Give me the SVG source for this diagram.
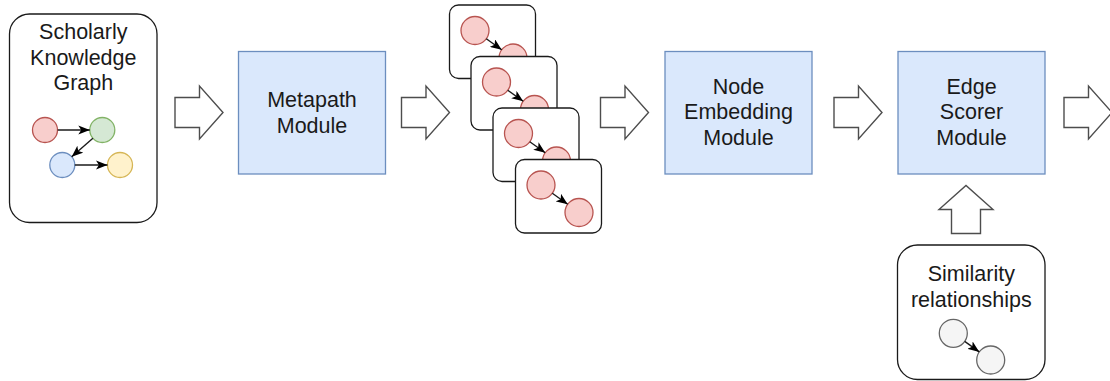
<svg xmlns="http://www.w3.org/2000/svg" width="1110" height="381" viewBox="0 0 1110 381">
  <style>
    .panel { fill: #ffffff; stroke: #1a1a1a; stroke-width: 1.3; }
    .module { fill: #dae8fc; stroke: #6c8ebf; stroke-width: 1.3; }
    .flow { fill: #ffffff; stroke: #4d4d4d; stroke-width: 1.4; stroke-linejoin: miter; }
    .label { font-family: "Liberation Sans", Helvetica, Arial, sans-serif; font-size: 21.5px; fill: #1a1a1a; text-anchor: middle; }
    .red { fill: #f8cecc; stroke: #b85450; stroke-width: 1.3; }
    .green { fill: #d5e8d4; stroke: #82b366; stroke-width: 1.3; }
    .blue { fill: #dae8fc; stroke: #6c8ebf; stroke-width: 1.3; }
    .yellow { fill: #fff2cc; stroke: #d6b656; stroke-width: 1.3; }
    .gray { fill: #f5f5f5; stroke: #666666; stroke-width: 1.3; }
    .edge { fill: none; stroke: #1a1a1a; stroke-width: 1.4; marker-end: url(#head); }
  </style>
  <defs>
    <marker id="head" viewBox="0 0 10 8" refX="10" refY="4" markerWidth="11.5" markerHeight="9.2" markerUnits="userSpaceOnUse" orient="auto">
      <path d="M0,0 L10,4 L0,8 L2.5,4 Z" fill="#000000"/>
    </marker>
    <!-- one metapath instance card: two red nodes and a directed edge -->
    <g id="card">
      <rect class="panel" x="0" y="0" width="86" height="73.5" rx="9"/>
      <circle class="red" cx="25.5" cy="25.5" r="14"/>
      <circle class="red" cx="63.5" cy="53" r="14"/>
      <line class="edge" x1="36.8" y1="33.7" x2="52.2" y2="44.8"/>
    </g>
  </defs>

  <!-- input graph -->
  <g id="scholarly-kg">
    <rect class="panel" x="9.5" y="14" width="147.5" height="208.5" rx="20"/>
    <text class="label" x="83.3" y="39">Scholarly</text>
    <text class="label" x="83.3" y="64.5">Knowledge</text>
    <text class="label" x="83.3" y="90">Graph</text>
    <circle class="red" cx="45" cy="130" r="12.5"/>
    <circle class="green" cx="102.3" cy="130" r="12.5"/>
    <circle class="blue" cx="62.3" cy="165" r="12.5"/>
    <circle class="yellow" cx="120" cy="165" r="12.5"/>
    <line class="edge" x1="57.7" y1="130" x2="89.8" y2="130"/>
    <line class="edge" x1="92.9" y1="138.2" x2="71.7" y2="156.8"/>
    <line class="edge" x1="74.8" y1="165" x2="107.5" y2="165"/>
  </g>

  <g id="metapath-module">
    <rect class="module" x="238.5" y="51.5" width="147" height="122.5"/>
    <text class="label" x="312" y="107.3">Metapath</text>
    <text class="label" x="312" y="133.3">Module</text>
  </g>

  <!-- stacked metapath instances -->
  <g id="metapath-instances">
    <use href="#card" x="449.5" y="5"/>
    <use href="#card" x="471" y="56.5"/>
    <use href="#card" x="493" y="108"/>
    <use href="#card" x="515.5" y="159.5"/>
  </g>

  <g id="node-embedding-module">
    <rect class="module" x="665" y="51.5" width="147" height="122.5"/>
    <text class="label" x="738.5" y="93.5">Node</text>
    <text class="label" x="738.5" y="119.3">Embedding</text>
    <text class="label" x="738.5" y="145.1">Module</text>
  </g>

  <g id="edge-scorer-module">
    <rect class="module" x="898" y="51.5" width="147" height="122.5"/>
    <text class="label" x="971.5" y="93.5">Edge</text>
    <text class="label" x="971.5" y="119.3">Scorer</text>
    <text class="label" x="971.5" y="145.1">Module</text>
  </g>

  <g id="similarity-relationships">
    <rect class="panel" x="897.5" y="245" width="147.5" height="134.5" rx="20"/>
    <text class="label" x="971.3" y="281">Similarity</text>
    <text class="label" x="971.3" y="306.7">relationships</text>
    <circle class="gray" cx="953.3" cy="333.3" r="14"/>
    <circle class="gray" cx="990.7" cy="360" r="14"/>
    <line class="edge" x1="964.7" y1="341.4" x2="979.3" y2="351.9"/>
  </g>

  <!-- block arrows between stages -->
  <g id="connectors">
    <path class="flow" d="M175,97.5 H199.5 V86 L223,112.5 L199.5,139 V127.5 H175 Z"/>
    <path class="flow" d="M401.5,97.5 H426 V86 L449.5,112.5 L426,139 V127.5 H401.5 Z"/>
    <path class="flow" d="M600.5,97.5 H625 V86 L648.5,112.5 L625,139 V127.5 H600.5 Z"/>
    <path class="flow" d="M834,97.5 H858.5 V86 L882,112.5 L858.5,139 V127.5 H834 Z"/>
    <path class="flow" d="M1064,97.5 H1088.5 V86 L1112,112.5 L1088.5,139 V127.5 H1064 Z"/>
    <path class="flow" d="M951.5,233.5 V209.5 H939 L966,185.5 L993,209.5 H980.5 V233.5 Z"/>
  </g>
</svg>
